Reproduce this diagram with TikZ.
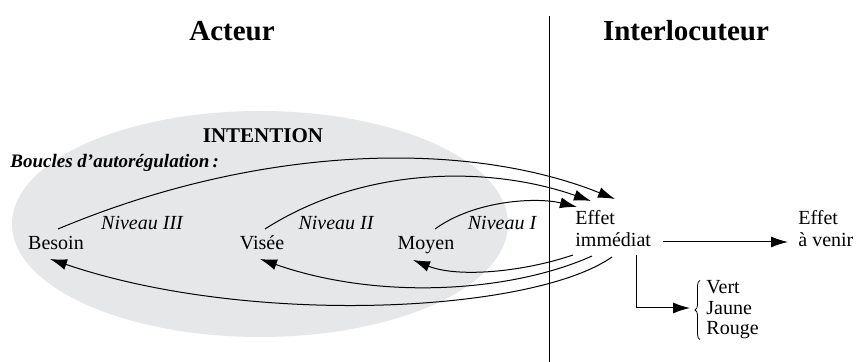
\documentclass[tikz,border=0pt]{standalone}
\usepackage{fontspec}
\setmainfont{Liberation Serif}
\usetikzlibrary{arrows.meta,decorations.pathreplacing}
\definecolor{fondgris}{RGB}{230,231,232}

\begin{document}
\begin{tikzpicture}[x=0.5pt,y=-0.5pt,
	mot/.style={inner sep=0pt,font=\fontsize{10}{11}\selectfont},
	niveau/.style={inner sep=0pt,anchor=base,font=\fontsize{10}{11}\selectfont\itshape},
	titre/.style={inner sep=0pt,font=\fontsize{14.5}{17}\selectfont\bfseries},
	fleche/.style={-{Latex[length=8.5pt,width=5.5pt]},line width=0.5pt}]
			\useasboundingbox (0,0) rectangle (856,362);
			\fill[fondgris] (260,224) ellipse [x radius=124pt,y radius=56.5pt];
			\coordinate (haut) at (549,16);
			\coordinate (bas) at (549,362);
			\draw[line width=0.5pt] (haut)--(bas);
			% titres
			\node[titre] (acteur) at (232,31) {Acteur};
			\node[titre] (interloc) at (686,31) {Interlocuteur};
			\node[inner sep=0pt,font=\fontsize{10.5}{12}\selectfont\bfseries] (intention) at (263,136) {INTENTION};
			\node[inner sep=0pt,anchor=base west,font=\fontsize{9.5}{11}\selectfont\bfseries\itshape] (boucles) at (10,168) {Boucles d’autorégulation\,:};
			% niveaux
			\node[mot,anchor=base] (besoin) at (56,250) {Besoin};
			\node[mot,anchor=base] (visee) at (262,250) {Visée};
			\node[mot,anchor=base] (moyen) at (426,250) {Moyen};
			\node[niveau] (niv3) at (142,230) {Niveau III};
			\node[niveau] (niv2) at (336,230) {Niveau II};
			\node[niveau] (niv1) at (502,230) {Niveau I};
			\node[mot,anchor=west,align=left] (immediat) at (575,229) {Effet\\immédiat};
			\node[mot,anchor=west,align=left] (avenir) at (798,229) {Effet\\à venir};
			\node[mot,anchor=west,align=left,font=\fontsize{10}{10.25}\selectfont] (couleurs) at (706,310) {Vert\\Jaune\\Rouge};
			% boucles vers l'effet
			\draw[fleche] ([shift={(2,-21)}]besoin.base) .. controls (258,145) and (465,139) .. ([shift={(40,-30)}]immediat.west);
			\draw[fleche] ([shift={(3,-21)}]visee.base) .. controls (365,165) and (491,166) .. ([shift={(16,-28)}]immediat.west);
			\draw[fleche] ([shift={(9,-21)}]moyen.base) .. controls (475,200) and (537,197) .. ([shift={(2,-22)}]immediat.west);
			% retours
			\draw[fleche] ([shift={(-2,26)}]immediat.west) .. controls (523,272) and (458,278) .. ([shift={(-13,10)}]moyen.base);
			\draw[fleche] ([shift={(17,27)}]immediat.west) .. controls (512,292) and (380,301) .. ([shift={(-2,9)}]visee.base);
			\draw[fleche] ([shift={(37,28)}]immediat.west) .. controls (532,313) and (250,327) .. ([shift={(-6,9)}]besoin.base);
			% interlocuteur
			\draw[fleche] ([shift={(12,13)}]immediat.east) -- ([shift={(-10,13)}]avenir.west);
			\draw[fleche] ([shift={(61,26)}]immediat.west) |- ([shift={(-16,-2)}]couleurs.west);
			\draw[line width=0.4pt,decorate,decoration={brace,amplitude=2.5pt}] ([shift={(-6,0)}]couleurs.south west) -- ([shift={(-6,0)}]couleurs.north west);
\end{tikzpicture}
\end{document}
